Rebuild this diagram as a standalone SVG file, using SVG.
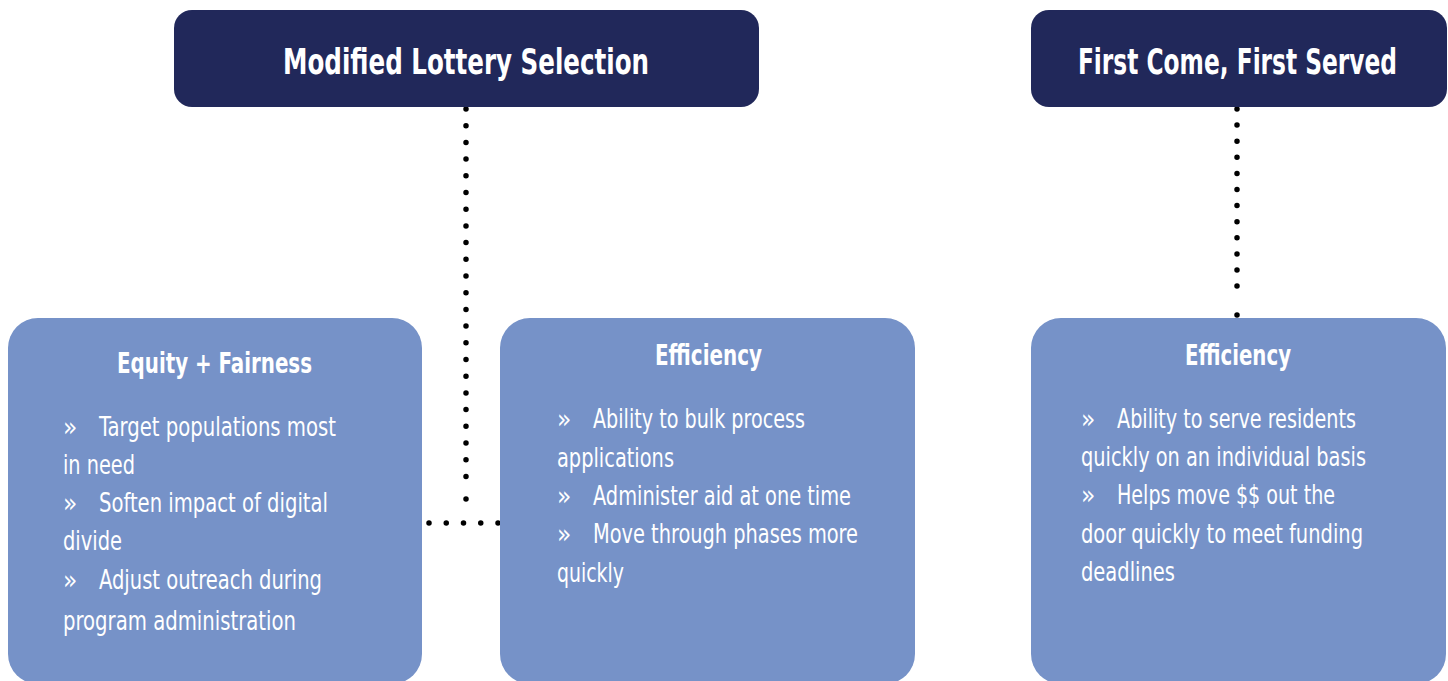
<svg xmlns="http://www.w3.org/2000/svg" width="1448" height="681" viewBox="0 0 1448 681">
  <defs>
    <style>
      .hdr { fill: #21285a; }
      .card { fill: #7692c8; }
      .hdr-t { fill: #ffffff; font-family: "Liberation Sans Narrow", "DejaVu Sans Condensed", "Liberation Sans", sans-serif; font-weight: bold; font-size: 36px; text-anchor: middle; }
      .ttl { fill: #ffffff; font-family: "Liberation Sans Narrow", "DejaVu Sans Condensed", "Liberation Sans", sans-serif; font-weight: bold; font-size: 28px; text-anchor: middle; }
      .txt { fill: #ffffff; font-family: "Liberation Sans Narrow", "DejaVu Sans Condensed", "Liberation Sans", sans-serif; font-size: 26px; }
      .dots { fill: none; stroke: #000000; stroke-width: 5.5; stroke-linecap: round; }
      .dot { fill: #000000; }
    </style>
  </defs>
  <rect width="1448" height="681" fill="#ffffff"/>

  <!-- dotted connectors -->
  <g id="connectors">
    <path class="dots" d="M466,109 V493" stroke-dasharray="0 16.7"/>
    <circle class="dot" cx="466" cy="499" r="2.75"/>
    <g class="dot">
      <circle cx="429" cy="523" r="2.75"/>
      <circle cx="446.25" cy="523" r="2.75"/>
      <circle cx="463.5" cy="523" r="2.75"/>
      <circle cx="480.75" cy="523" r="2.75"/>
      <circle cx="498" cy="523" r="2.75"/>
    </g>
    <path class="dots" d="M1237,109 V302" stroke-dasharray="0 16.1"/>
    <circle class="dot" cx="1237" cy="315" r="2.75"/>
  </g>

  <g id="header-lottery">
    <rect class="hdr" x="174" y="10" width="585" height="97" rx="18"/>
    <text class="hdr-t" x="466" y="74" textLength="366" lengthAdjust="spacingAndGlyphs">Modified Lottery Selection</text>
  </g>

  <!-- condensed horizontally so the label stays inside the box -->
  <g id="header-fcfs">
    <rect class="hdr" x="1031" y="10" width="416" height="97" rx="18"/>
    <text class="hdr-t" transform="translate(1237.5 74) scale(0.72 1)" x="0" y="0">First Come, First Served</text>
  </g>

  <g id="card-equity">
    <rect class="card" x="8" y="318" width="414" height="366" rx="30"/>
    <text class="ttl" x="214.5" y="373" textLength="195" lengthAdjust="spacingAndGlyphs">Equity + Fairness</text>
    <text class="txt" x="63" y="436">»</text>
    <text class="txt" x="99" y="436" textLength="237" lengthAdjust="spacingAndGlyphs">Target populations most</text>
    <text class="txt" x="63" y="474" textLength="72" lengthAdjust="spacingAndGlyphs">in need</text>
    <text class="txt" x="63" y="512">»</text>
    <text class="txt" x="99" y="512" textLength="229" lengthAdjust="spacingAndGlyphs">Soften impact of digital</text>
    <text class="txt" x="63" y="550" textLength="59" lengthAdjust="spacingAndGlyphs">divide</text>
    <text class="txt" x="63" y="589">»</text>
    <text class="txt" x="99" y="589" textLength="223" lengthAdjust="spacingAndGlyphs">Adjust outreach during</text>
    <text class="txt" x="63" y="630" textLength="233" lengthAdjust="spacingAndGlyphs">program administration</text>
  </g>

  <g id="card-efficiency-lottery">
    <rect class="card" x="500" y="318" width="415" height="366" rx="30"/>
    <text class="ttl" x="708.5" y="365" textLength="107" lengthAdjust="spacingAndGlyphs">Efficiency</text>
    <text class="txt" x="557" y="428">»</text>
    <text class="txt" x="593" y="428" textLength="212" lengthAdjust="spacingAndGlyphs">Ability to bulk process</text>
    <text class="txt" x="557" y="467" textLength="117" lengthAdjust="spacingAndGlyphs">applications</text>
    <text class="txt" x="557" y="505">»</text>
    <text class="txt" x="593" y="505" textLength="258" lengthAdjust="spacingAndGlyphs">Administer aid at one time</text>
    <text class="txt" x="557" y="543">»</text>
    <text class="txt" x="593" y="543" textLength="265" lengthAdjust="spacingAndGlyphs">Move through phases more</text>
    <text class="txt" x="557" y="582" textLength="67" lengthAdjust="spacingAndGlyphs">quickly</text>
  </g>

  <g id="card-efficiency-fcfs">
    <rect class="card" x="1031" y="318" width="415" height="366" rx="30"/>
    <text class="ttl" x="1238" y="365" textLength="106" lengthAdjust="spacingAndGlyphs">Efficiency</text>
    <text class="txt" x="1081" y="428">»</text>
    <text class="txt" x="1117" y="428" textLength="239" lengthAdjust="spacingAndGlyphs">Ability to serve residents</text>
    <text class="txt" x="1081" y="466" textLength="285" lengthAdjust="spacingAndGlyphs">quickly on an individual basis</text>
    <text class="txt" x="1081" y="504">»</text>
    <text class="txt" x="1117" y="504" textLength="218" lengthAdjust="spacingAndGlyphs">Helps move $$ out the</text>
    <text class="txt" x="1081" y="543" textLength="282" lengthAdjust="spacingAndGlyphs">door quickly to meet funding</text>
    <text class="txt" x="1081" y="581" textLength="94" lengthAdjust="spacingAndGlyphs">deadlines</text>
  </g>
</svg>
